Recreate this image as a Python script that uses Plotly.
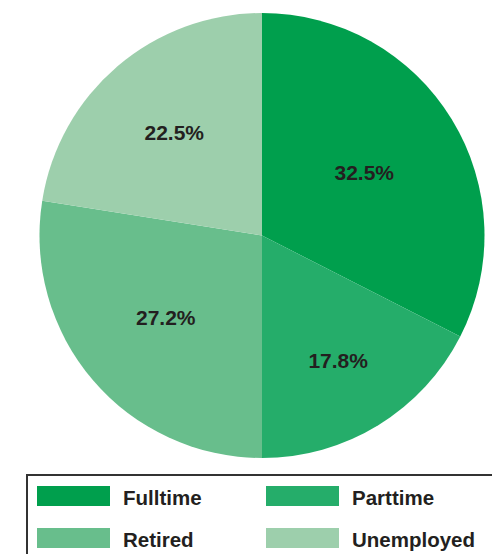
import plotly.graph_objects as go

# ─── Data ──────────────────────────────────────────────────────────────────────
labels = ["Fulltime", "Parttime", "Retired", "Unemployed"]
# slice sizes as drawn in the source picture (its wedges are not drawn exactly at the printed %)
slice_sizes = [32.5, 17.5, 27.5, 22.5]
# percentages as printed on the slices
printed_pct = ["32.5%", "17.8%", "27.2%", "22.5%"]
colors = ["#009F4D", "#25AD6A", "#68BE8C", "#9DCFAC"]

W, H = 500, 554
OFF = 8  # page body margin shifts the figure by this much
FONT = "Liberation Sans, Arial, Helvetica, sans-serif"


def px_x(x):
    return (x - OFF) / W


def px_y(y):
    return 1 - (y - OFF) / H


fig = go.Figure(go.Pie(
    labels=labels,
    values=slice_sizes,
    text=printed_pct,
    textinfo="text",
    sort=False,
    direction="clockwise",
    rotation=0,
    marker=dict(colors=colors, line=dict(width=0)),
    textposition="inside",
    insidetextorientation="horizontal",
    textfont=dict(family=FONT, size=21, color="#231F20", weight="bold"),
    domain=dict(x=[px_x(39.5), px_x(484.5)], y=[px_y(458), px_y(13)]),
    showlegend=False,
    hoverinfo="label+text",
))

# ─── Hand-drawn legend box (wide swatches) ─────────────────────────────────────
shapes = [dict(type="rect", xref="paper", yref="paper",
               x0=px_x(27), x1=px_x(497), y0=px_y(570), y1=px_y(475),
               line=dict(color="#333333", width=2), fillcolor="rgba(0,0,0,0)")]
annotations = []
slots = [(37, 486), (266, 486), (37, 528), (266, 528)]
for (sx, sy), lab, col in zip(slots, labels, colors):
    shapes.append(dict(type="rect", xref="paper", yref="paper",
                       x0=px_x(sx), x1=px_x(sx + 73), y0=px_y(sy + 20), y1=px_y(sy),
                       line=dict(width=0), fillcolor=col))
    annotations.append(dict(xref="paper", yref="paper", x=px_x(sx + 84), y=px_y(sy + 11),
                            text=f"<b>{lab}</b>", showarrow=False, xanchor="left", yanchor="middle",
                            font=dict(family=FONT, size=20.5, color="#231F20")))

fig.update_layout(
    width=W, height=H,
    margin=dict(l=0, r=0, t=0, b=0),
    paper_bgcolor="white",
    shapes=shapes,
    annotations=annotations,
)

fig.write_html("out.html")
